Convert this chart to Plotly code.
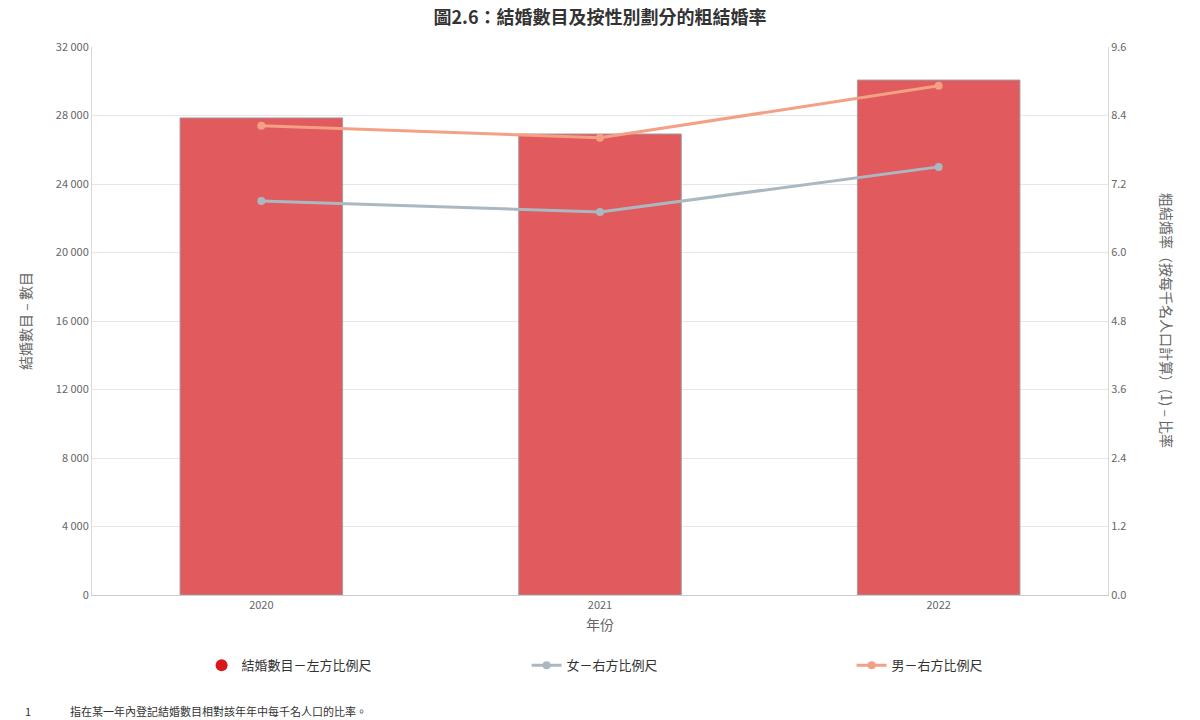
import plotly.graph_objects as go

years = ["2020", "2021", "2022"]
marriages = [27860, 26920, 30070]
female_rate = [6.90, 6.71, 7.50]
male_rate = [8.22, 8.01, 8.92]

left_ticks = [0, 4000, 8000, 12000, 16000, 20000, 24000, 28000, 32000]
right_ticks = [0.0, 1.2, 2.4, 3.6, 4.8, 6.0, 7.2, 8.4, 9.6]

FONT = "Noto Sans CJK TC"
GREY = "#666666"

fig = go.Figure()
fig.add_trace(go.Bar(
    x=years, y=marriages, name="結婚數目－左方比例尺",
    marker=dict(color="rgba(221,72,76,0.9)", line=dict(color="#a0a0a0", width=1)),
    width=0.48, showlegend=False, yaxis="y"))
fig.add_trace(go.Scatter(
    x=[None], y=[None], mode="markers", name="結婚數目－左方比例尺",
    marker=dict(color="#d7191c", size=12, symbol="circle"), yaxis="y"))
fig.add_trace(go.Scatter(
    x=years, y=female_rate, name="女－右方比例尺", mode="lines+markers",
    line=dict(color="#aab8c2", width=3), marker=dict(size=8, color="#aab8c2"),
    yaxis="y2"))
fig.add_trace(go.Scatter(
    x=years, y=male_rate, name="男－右方比例尺", mode="lines+markers",
    line=dict(color="#f4a085", width=3), marker=dict(size=8, color="#f4a085"),
    yaxis="y2"))

fig.update_layout(
    width=1200, height=720,
    margin=dict(l=92, r=92, t=47, b=125, autoexpand=False),
    paper_bgcolor="white", plot_bgcolor="white",
    font=dict(family=FONT, color=GREY, size=11),
    separators=". ",
    title=dict(text="<b>圖2.6：結婚數目及按性別劃分的粗結婚率</b>",
               x=0.5, xanchor="center", y=0.975, yanchor="middle",
               font=dict(size=18, color="#333333", family=FONT)),
    xaxis=dict(type="category", showline=True, linecolor="#cccccc", linewidth=1,
               ticks="", tickfont=dict(size=11, color=GREY),
               title=dict(text="年份", font=dict(size=14, color=GREY), standoff=8)),
    yaxis=dict(range=[0, 32000], tickvals=left_ticks, tickformat=",d",
               showline=True, linecolor="#d9d9d9", gridcolor="#e6e6e6",
               zeroline=False, ticks="", tickfont=dict(size=11, color=GREY),
               title=dict(text="結婚數目 – 數目", font=dict(size=14, color=GREY),
                          standoff=20)),
    yaxis2=dict(range=[0, 9.6], tickvals=right_ticks, tickformat=".1f",
                overlaying="y", side="right", showline=True, linecolor="#d9d9d9",
                showgrid=False, zeroline=False, ticks="",
                tickfont=dict(size=11, color=GREY)),
    legend=dict(orientation="h", xref="container", yref="container",
                x=0.168, xanchor="left", y=0.076, yanchor="middle",
                entrywidth=280, entrywidthmode="pixels", itemwidth=30,
                font=dict(size=13, color="#333333"), traceorder="normal"),
    bargap=0.52,
)

fig.add_annotation(text="粗結婚率（按每千名人口計算）(1) – 比率", textangle=90,
                   xref="paper", yref="paper", x=1.058, y=0.5,
                   xanchor="center", yanchor="middle", showarrow=False,
                   font=dict(size=14, color=GREY))
fig.add_annotation(text="1", xref="paper", yref="paper", x=-0.063, y=-0.212,
                   xanchor="center", yanchor="middle", showarrow=False,
                   font=dict(size=11, color="#333333"))
fig.add_annotation(text="指在某一年內登記結婚數目相對該年年中每千名人口的比率。",
                   xref="paper", yref="paper", x=-0.024, y=-0.212,
                   xanchor="left", yanchor="middle", showarrow=False,
                   font=dict(size=11, color="#333333"))

fig.write_html("out.html")
